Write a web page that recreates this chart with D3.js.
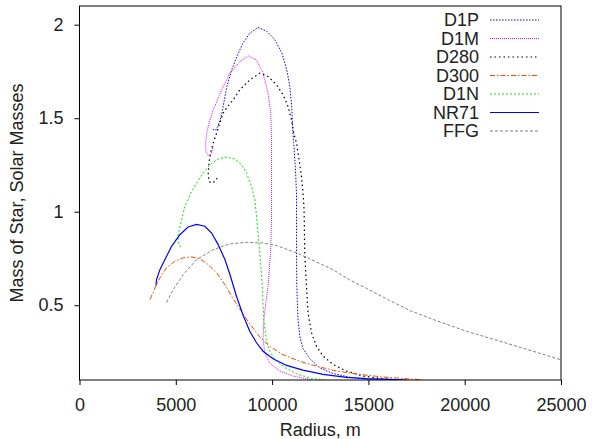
<!DOCTYPE html>
<html>
<head>
<meta charset="utf-8">
<script src="https://cdn.jsdelivr.net/npm/d3@7"></script>
<style>
  body { margin: 0; background: #fff; }
  svg { font-family: "Liberation Sans", Arial, sans-serif; }
</style>
</head>
<body>
<div id="vis-holder"></div>
<script>
// Series names, in legend order
const seriesNames = ["D1P", "D1M", "D280", "D300", "D1N", "NR71", "FFG"];

// Radius (m) / mass (solar masses) points
const d1p = [[6920,1.44],[7060,1.435],[7200,1.46],[7300,1.49],[7400,1.53],[7650,1.67],[7910,1.76],[8170,1.83],[8480,1.90],[8840,1.955],[9260,1.985],[9720,1.965],[10140,1.92],[10500,1.85],[10760,1.76],[10920,1.67],[11020,1.56],[11070,1.44],[11120,1.37],[11180,1.28],[11230,1.19],[11265,1.10],[11270,0.975],[11270,0.78],[11280,0.60],[11350,0.42],[11440,0.335],[11590,0.27],[11950,0.215],[12470,0.165],[13150,0.135],[14030,0.115],[14900,0.104],[15600,0.1]];
const d1m = [[6940,1.35],[6850,1.31],[6700,1.30],[6570,1.32],[6545,1.36],[6600,1.42],[6770,1.49],[6940,1.545],[7030,1.565],[7380,1.652],[7810,1.741],[8330,1.803],[8760,1.833],[9190,1.812],[9530,1.741],[9790,1.634],[9930,1.527],[9970,1.385],[9970,1.19],[9970,0.96],[9920,0.78],[9790,0.60],[9670,0.51],[9570,0.42],[9530,0.32],[9620,0.245],[9880,0.19],[10400,0.148],[11090,0.121],[11780,0.107],[12100,0.1]];
const d280 = [[7150,1.18],[7030,1.162],[6860,1.153],[6730,1.162],[6680,1.198],[6730,1.269],[6805,1.314],[6940,1.367],[7116,1.42],[7287,1.474],[7460,1.527],[7635,1.555],[7977,1.598],[8325,1.652],[8843,1.705],[9362,1.741],[9793,1.723],[10228,1.678],[10571,1.625],[10830,1.562],[11006,1.491],[11126,1.42],[11266,1.367],[11400,1.278],[11525,1.189],[11608,1.10],[11660,1.011],[11696,0.779],[11784,0.601],[11867,0.459],[12044,0.353],[12303,0.281],[12645,0.228],[13164,0.183],[13859,0.148],[14720,0.121],[15757,0.107],[16500,0.1]];
const d300 = [[3660,0.53],[3920,0.593],[4175,0.646],[4520,0.70],[4950,0.735],[5380,0.753],[5820,0.758],[6250,0.748],[6680,0.717],[7120,0.673],[7550,0.61],[7980,0.535],[8450,0.46],[8840,0.40],[9360,0.33],[9880,0.28],[10570,0.235],[11440,0.20],[12300,0.174],[13340,0.148],[14550,0.13],[15760,0.116],[16970,0.107],[17800,0.1]];
const d1n = [[5250,0.81],[5150,0.83],[5110,0.87],[5300,0.957],[5470,1.028],[5643,1.064],[5731,1.091],[6080,1.153],[6420,1.207],[6770,1.251],[7200,1.282],[7635,1.292],[8065,1.282],[8413,1.251],[8672,1.207],[8932,1.135],[9103,1.064],[9206,0.96],[9362,0.78],[9492,0.60],[9569,0.42],[9700,0.317],[9830,0.263],[10140,0.21],[10660,0.167],[11330,0.13],[12060,0.109],[12730,0.1]];
const nr71 = [[3970,0.605],[4000,0.637],[4175,0.69],[4435,0.744],[4780,0.815],[5210,0.877],[5640,0.918],[6080,0.932],[6510,0.922],[6860,0.886],[7200,0.824],[7550,0.744],[7810,0.664],[8150,0.548],[8500,0.445],[8840,0.361],[9190,0.299],[9530,0.254],[10050,0.214],[10750,0.178],[11600,0.153],[12650,0.13],[13860,0.114],[14900,0.107],[16100,0.103],[17000,0.1]];
const ffg = [[4520,0.515],[4865,0.583],[5384,0.664],[6080,0.744],[6940,0.797],[7806,0.828],[8672,0.836],[9533,0.833],[10228,0.819],[11266,0.78],[11955,0.748],[13164,0.69],[14030,0.635],[14900,0.59],[16100,0.525],[17200,0.47],[18351,0.424],[20083,0.361],[21810,0.308],[23537,0.254],[25000,0.208]];

const seriesData = [d1p, d1m, d280, d300, d1n, nr71, ffg];

// Tick values
const xTicks = [0, 5000, 10000, 15000, 20000, 25000];
const yTicks = [0.5, 1, 1.5, 2];

// Line styles per series
const colors = ["#0000ff", "#ff00ff", "#000000", "#ff4500", "#00ee00", "#0000ff", "#808080"];
const dashes = ["1.5,1.5", "1,1", "1.5,3", "5,2,1.5,2", "2,2", null, "3,2"];
const widths = [1, 1, 1.2, 1, 1, 1.2, 1];

const width = 592, height = 439;
const margin = { top: 6, right: 31, bottom: 59, left: 79.5 };

const svg = d3.select("#vis-holder")
  .append("svg")
  .attr("width", width)
  .attr("height", height);

const x = d3.scaleLinear().domain([0, 25000]).range([margin.left, width - margin.right]);
const y = d3.scaleLinear().domain([0.1, 2.1]).range([height - margin.bottom, margin.top]);

svg.append("clipPath").attr("id", "plot-clip")
  .append("rect")
  .attr("x", x(0)).attr("y", y(2.1))
  .attr("width", x(25000) - x(0)).attr("height", y(0.1) - y(2.1));

// Curves
const line = d3.line().x(d => x(d[0])).y(d => y(d[1]));
const plot = svg.append("g").attr("clip-path", "url(#plot-clip)");
seriesData.forEach((s, i) => {
  plot.append("path")
    .datum(s)
    .attr("d", line)
    .attr("fill", "none")
    .attr("stroke", colors[i])
    .attr("stroke-width", widths[i])
    .attr("stroke-dasharray", dashes[i]);
});

// Frame
svg.append("rect")
  .attr("x", x(0)).attr("y", y(2.1))
  .attr("width", x(25000) - x(0)).attr("height", y(0.1) - y(2.1))
  .attr("fill", "none").attr("stroke", "#000").attr("stroke-width", 1);

// Axes
svg.append("g")
  .attr("transform", `translate(0,${y(0.1)})`)
  .call(d3.axisBottom(x).tickValues(xTicks).tickFormat(d3.format("d")).tickSize(5).tickPadding(13))
  .call(g => g.select(".domain").remove())
  .attr("font-size", "18px")
  .attr("font-family", null)
  .call(g => g.selectAll("text").attr("fill", "#222"));

svg.append("g")
  .attr("transform", `translate(${x(0)},0)`)
  .call(d3.axisLeft(y).tickValues(yTicks).tickFormat(d => String(d)).tickSize(5).tickPadding(11))
  .call(g => g.select(".domain").remove())
  .attr("font-size", "18px")
  .attr("font-family", null)
  .call(g => g.selectAll("text").attr("fill", "#222"));

// Axis titles
svg.append("text")
  .attr("x", (x(0) + x(25000)) / 2)
  .attr("y", 436)
  .attr("text-anchor", "middle")
  .attr("font-size", "18px")
  .attr("fill", "#222")
  .text("Radius, m");

svg.append("text")
  .attr("transform", `translate(23,${(y(0.1) + y(2.1)) / 2}) rotate(-90)`)
  .attr("text-anchor", "middle")
  .attr("font-size", "18px")
  .attr("fill", "#222")
  .text("Mass of Star, Solar Masses");

// Legend
const legend = svg.append("g");
seriesNames.forEach((name, i) => {
  const ly = 20 + i * 18.5;
  legend.append("text")
    .attr("x", 479).attr("y", ly)
    .attr("dy", "0.35em")
    .attr("text-anchor", "end")
    .attr("font-size", "18px")
    .attr("fill", "#222")
    .text(name);
  legend.append("line")
    .attr("x1", 490).attr("x2", 539)
    .attr("y1", ly).attr("y2", ly)
    .attr("stroke", colors[i])
    .attr("stroke-width", widths[i])
    .attr("stroke-dasharray", dashes[i]);
});
</script>
</body>
</html>
